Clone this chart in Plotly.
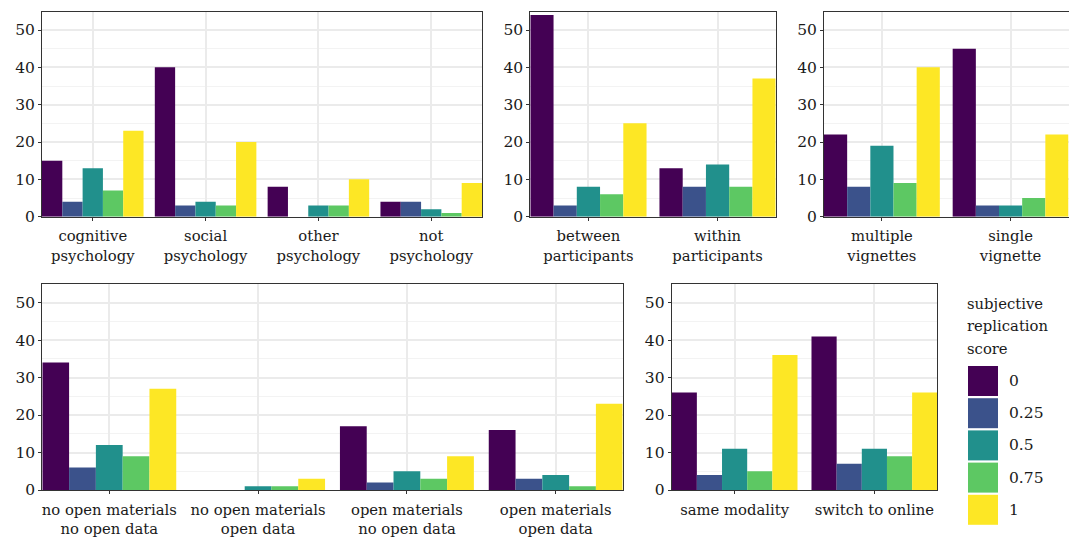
import plotly.graph_objects as go

# ---------------- data ----------------
scores = ["0", "0.25", "0.5", "0.75", "1"]
colors = ["#440154", "#3B528B", "#21908C", "#5DC863", "#FDE725"]

field_cats = ["cognitive<br>psychology", "social<br>psychology", "other<br>psychology", "not<br>psychology"]
field_vals = {
    "0":    [15, 40, 8, 4],
    "0.25": [4, 3, 0, 4],
    "0.5":  [13, 4, 3, 2],
    "0.75": [7, 3, 3, 1],
    "1":    [23, 20, 10, 9],
}

design_cats = ["between<br>participants", "within<br>participants"]
design_vals = {
    "0":    [54, 13],
    "0.25": [3, 8],
    "0.5":  [8, 14],
    "0.75": [6, 8],
    "1":    [25, 37],
}

vignette_cats = ["multiple<br>vignettes", "single<br>vignette"]
vignette_vals = {
    "0":    [22, 45],
    "0.25": [8, 3],
    "0.5":  [19, 3],
    "0.75": [9, 5],
    "1":    [40, 22],
}

open_cats = ["no open materials<br>no open data", "no open materials<br>open data",
             "open materials<br>no open data", "open materials<br>open data"]
open_vals = {
    "0":    [34, 0, 17, 16],
    "0.25": [6, 0, 2, 3],
    "0.5":  [12, 1, 5, 4],
    "0.75": [9, 1, 3, 1],
    "1":    [27, 3, 9, 23],
}

modality_cats = ["same modality", "switch to online"]
modality_vals = {
    "0":    [26, 41],
    "0.25": [4, 7],
    "0.5":  [11, 11],
    "0.75": [5, 9],
    "1":    [36, 26],
}

y_ticks = [0, 10, 20, 30, 40, 50]
legend_title_lines = ["subjective", "replication", "score"]

# ---------------- layout helpers ----------------
W, H = 1069, 541
FONT = "DejaVu Serif"
FS_X = 14.8
FS_Y = 15.5
TXT = "#1a1a1a"

def px_x(p):
    return p / W

def px_y(p):
    return 1 - p / H

panels = [
    (field_cats, field_vals, (42, 482), (11.7, 216.7)),
    (design_cats, design_vals, (530.3, 775.7), (11.7, 216.7)),
    (vignette_cats, vignette_vals, (824, 1068.5), (11.7, 216.7)),
    (open_cats, open_vals, (42.3, 622.7), (284.3, 490)),
    (modality_cats, modality_vals, (671.7, 937.3), (284.3, 490)),
]

fig = go.Figure()
layout = {}

for i, (cats, vals, (xl, xr), (yt, yb)) in enumerate(panels, start=1):
    xa = "x" if i == 1 else f"x{i}"
    ya = "y" if i == 1 else f"y{i}"
    for s, c in zip(scores, colors):
        fig.add_trace(go.Bar(
            x=cats, y=vals[s], name=s, marker=dict(color=c, line=dict(width=0)),
            xaxis=xa, yaxis=ya, showlegend=False, hoverinfo="x+y",
        ))
    n = len(cats)
    layout["xaxis" if i == 1 else f"xaxis{i}"] = dict(
        domain=[px_x(xl), px_x(xr)], anchor=ya,
        type="category", range=[-0.45, n - 0.55], tickangle=0,
        showgrid=True, gridcolor="#ebebeb", gridwidth=1.5,
        showline=True, linecolor="#333333", linewidth=1, mirror=True,
        ticks="outside", ticklen=3, tickcolor="#333333", ticklabelstandoff=3,
        tickfont=dict(family=FONT, size=FS_X, color=TXT),
        zeroline=False, fixedrange=True, automargin=False,
    )
    layout["yaxis" if i == 1 else f"yaxis{i}"] = dict(
        domain=[px_y(yb), px_y(yt)], anchor=xa,
        range=[0, 54.9], tickvals=y_ticks,
        showgrid=True, gridcolor="#ebebeb", gridwidth=1.5,
        minor=dict(dtick=5, tick0=0, showgrid=True, gridcolor="#f3f3f3", gridwidth=1),
        showline=True, linecolor="#333333", linewidth=1, mirror=True,
        ticks="outside", ticklen=3, tickcolor="#333333",
        tickfont=dict(family=FONT, size=FS_Y, color=TXT),
        zeroline=False, fixedrange=True, automargin=False,
    )

# ---------------- custom legend ----------------
shapes = []
annotations = []
for j, line in enumerate(legend_title_lines):
    annotations.append(dict(
        xref="paper", yref="paper", x=px_x(965), y=px_y(303 + 22.5 * j),
        xanchor="left", yanchor="middle", text=line, showarrow=False,
        font=dict(family=FONT, size=FS_X, color=TXT),
    ))
key_top = 366
key_h = 30
key_step = 32.2
for k, (s, c) in enumerate(zip(scores, colors)):
    t = key_top + k * key_step
    shapes.append(dict(
        type="rect", xref="paper", yref="paper",
        x0=px_x(968), x1=px_x(998), y0=px_y(t + key_h), y1=px_y(t),
        fillcolor=c, line=dict(width=0),
    ))
    annotations.append(dict(
        xref="paper", yref="paper", x=px_x(1007), y=px_y(t + key_h / 2),
        xanchor="left", yanchor="middle", text=s, showarrow=False,
        font=dict(family=FONT, size=FS_Y, color=TXT),
    ))

fig.update_layout(
    width=W, height=H, margin=dict(l=0, r=0, t=0, b=0, autoexpand=False),
    paper_bgcolor="white", plot_bgcolor="white",
    barmode="group", bargap=0.1, bargroupgap=0,
    shapes=shapes, annotations=annotations, showlegend=False,
    font=dict(family=FONT, size=FS_Y, color=TXT),
    **layout,
)

fig.write_html(
    "out.html",
    config={"displayModeBar": False},
    post_script="document.body.style.margin='0';document.body.style.padding='0';",
)
